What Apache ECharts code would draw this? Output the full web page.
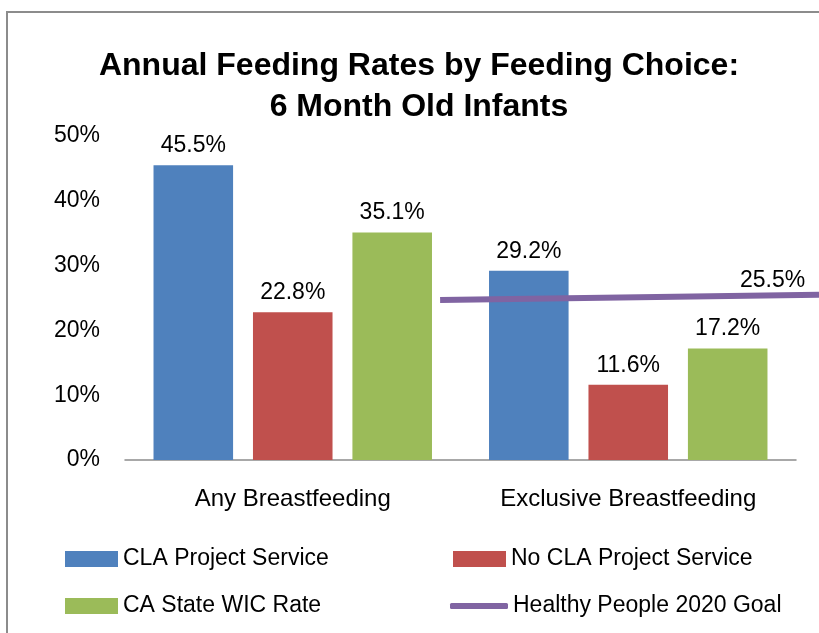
<!DOCTYPE html>
<html>
<head>
<meta charset="utf-8">
<script src="https://cdn.jsdelivr.net/npm/echarts@6/dist/echarts.min.js"></script>
<style>
  html, body { margin: 0; padding: 0; background: #fff; }
  #chart { width: 819px; height: 633px; }
</style>
</head>
<body>
<div id="chart"></div>
<script>
// data
var categories = ["Any Breastfeeding", "Exclusive Breastfeeding"];
var claService = [45.5, 29.2];
var noClaService = [22.8, 11.6];
var caStateWic = [35.1, 17.2];
// goal line, x in category units (0..2 across the plot, runs past the right edge)
var goalX = [0.939, 2.068];
var goalY = [24.7, 25.5];
var yTicks = [0, 10, 20, 30, 40, 50];

var FONT = "Liberation Sans";
var chart = echarts.init(document.getElementById("chart"));

function legendAt(name, left, top, opts) {
  return Object.assign({
    data: [name],
    left: left,
    top: top,
    padding: 0,
    itemWidth: 53,
    itemHeight: 16,
    icon: "rect",
    textStyle: { fontFamily: FONT, fontSize: 23, color: "#000", lineHeight: 24 }
  }, opts || {});
}

var labelStyle = { show: true, position: "top", distance: 8, fontFamily: FONT, fontSize: 23, color: "#000", formatter: "{c}%" };

chart.setOption({
  animation: false,
  textStyle: { fontFamily: FONT },
  title: {
    text: "Annual Feeding Rates by Feeding Choice:\n6 Month Old Infants",
    left: 414,
    top: 41,
    textAlign: "center",
    textStyle: { fontFamily: FONT, fontSize: 32, fontWeight: "bold", color: "#000", lineHeight: 41 }
  },
  graphic: [{
    type: "rect",
    shape: { x: 7, y: 12, width: 900, height: 700 },
    style: { fill: "none", stroke: "#8c8c8c", lineWidth: 2 },
    silent: true
  }],
  legend: [
    legendAt("CLA Project Service", 65, 547),
    legendAt("No CLA Project Service", 453, 547),
    legendAt("CA State WIC Rate", 65, 594),
    legendAt("Healthy People 2020 Goal", 450, 594, { itemWidth: 58, itemHeight: 6, icon: "roundRect" })
  ],
  grid: [
    { left: 125, right: 23, top: 136, bottom: 173 },
    { left: 125, right: 0, top: 136, bottom: 173 }
  ],
  xAxis: [{
    type: "category",
    gridIndex: 0,
    data: categories,
    axisLine: { lineStyle: { color: "#8c8c8c", width: 1.5 } },
    axisTick: { show: false },
    axisLabel: { fontFamily: FONT, fontSize: 24, color: "#000", margin: 27 }
  }, {
    type: "value",
    gridIndex: 1,
    min: 0,
    max: goalX[1],
    show: false
  }],
  yAxis: [{
    type: "value",
    gridIndex: 0,
    min: yTicks[0],
    max: yTicks[yTicks.length - 1],
    interval: 10,
    axisLine: { show: false },
    axisTick: { show: false },
    splitLine: { show: false },
    axisLabel: { fontFamily: FONT, fontSize: 23, color: "#000", margin: 25, formatter: "{value}%" }
  }, {
    type: "value",
    gridIndex: 1,
    min: yTicks[0],
    max: yTicks[yTicks.length - 1],
    show: false
  }],
  series: [
    {
      name: "CLA Project Service", type: "bar", data: claService,
      barGap: "25%", barCategoryGap: "17%",
      itemStyle: { color: "#4F81BD" },
      label: labelStyle
    },
    {
      name: "No CLA Project Service", type: "bar", data: noClaService,
      itemStyle: { color: "#C0504D" },
      label: labelStyle
    },
    {
      name: "CA State WIC Rate", type: "bar", data: caStateWic,
      itemStyle: { color: "#9BBB59" },
      label: labelStyle
    },
    {
      name: "Healthy People 2020 Goal", type: "line",
      xAxisIndex: 1,
      yAxisIndex: 1,
      data: goalX.map(function (x, i) { return [x, goalY[i]]; }),
      clip: false,
      symbol: "none",
      z: 5,
      itemStyle: { color: "#8064A2" },
      lineStyle: { color: "#8064A2", width: 6 },
      endLabel: {
        show: true,
        fontFamily: FONT, fontSize: 23, color: "#000",
        offset: [-87, -14],
        formatter: function (p) { return p.value[1] + "%"; }
      }
    }
  ]
});
</script>
</body>
</html>
